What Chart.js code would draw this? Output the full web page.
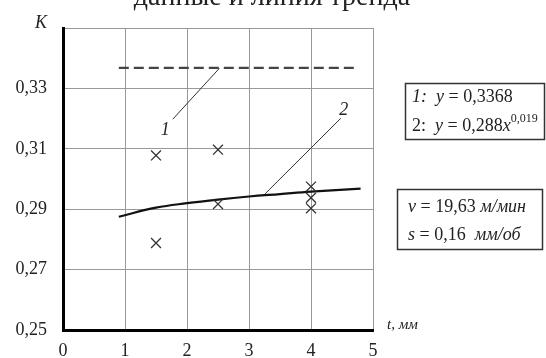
<!DOCTYPE html>
<html>
<head>
<meta charset="UTF-8">
<title>trend.html</title>
<style>
	body {margin:0; background:#fff;}
	#wrap {width:546px; height:358px;}
</style>
</head>
<body>
<div id="wrap"><canvas id="myChart" width="546" height="358"></canvas></div>
<script src="https://cdn.jsdelivr.net/npm/chart.js@4"></script>
<script>
	// data
	const pointT = [1.5, 1.5, 2.5, 2.5, 4, 4, 4];
	const pointK = [0.3078, 0.2788, 0.3097, 0.2917, 0.2975, 0.2938, 0.2903];
	const trendT = [0.9, 1.5, 2, 2.5, 3, 3.5, 4, 4.8];
	const trendK = [0.2875, 0.2905, 0.2920, 0.2932, 0.2942, 0.2950, 0.2958, 0.2968];
	const lineT = [0.9, 4.7];
	const lineK = [0.3368, 0.3368];
	const xTicks = [0, 1, 2, 3, 4, 5];
	const yTicks = [0.25, 0.27, 0.29, 0.31, 0.33];

	// leader lines to the labels 1 and 2
	const leader1 = [{x:2.52, y:0.3366}, {x:1.77, y:0.3198}];
	const leader2 = [{x:3.26, y:0.2951}, {x:4.48, y:0.3201}];

	const serif = '"Liberation Serif", "Times New Roman", serif';
	const toXY = (xs, ys) => xs.map((v, i) => ({x:v, y:ys[i]}));

	// texts drawn around the plot
	const textPlugin = {
		id:'texts',
		beforeDraw(chart) {
			const c = chart.ctx;
			c.save();
			c.fillStyle = '#fff';
			c.fillRect(0, 0, chart.width, chart.height);
			c.restore();
		},
		afterDraw(chart) {
			const c = chart.ctx;
			const xs = chart.scales.x, ys = chart.scales.y;
			c.save();
			c.fillStyle = '#222';
			c.textBaseline = 'alphabetic';

			// title (cut off at the top)
			c.font = '28px ' + serif;
			c.textAlign = 'center';
			c.fillText('данные и линия тренда', 272, 5);

			c.textAlign = 'left';
			c.font = 'italic 18px ' + serif;
			c.fillText('K', 35, 28);

			c.font = 'italic 15px ' + serif;
			c.fillText('t, мм', 387, 329);

			// labels of the curves
			c.font = 'italic 18px ' + serif;
			c.textAlign = 'center';
			c.fillText('1', xs.getPixelForValue(1.65), ys.getPixelForValue(0.3165) + 6);
			c.fillText('2', xs.getPixelForValue(4.53), ys.getPixelForValue(0.3231) + 6);
			c.textAlign = 'left';

			// boxes
			c.strokeStyle = '#333';
			c.lineWidth = 1.5;
			c.strokeRect(405.5, 83.5, 139, 56);
			c.strokeRect(397.5, 189.5, 145, 60);

			function run(parts, x, y) {
				parts.forEach(p => {
					c.font = p[1];
					c.fillText(p[0], x, y + (p[2] || 0));
					x += c.measureText(p[0]).width;
				});
			}
			const reg = '18px ' + serif, ita = 'italic 18px ' + serif, sup = '12px ' + serif;
			run([['1:', ita], ['  y', ita], [' = 0,3368', reg]], 412, 102);
			run([['2:', reg], ['  y', ita], [' = 0,288', reg], ['x', ita], ['0,019', sup, -9]], 412, 131);
			run([['v', ita], [' = 19,63 ', reg], ['м/мин', ita]], 408, 212);
			run([['s', ita], [' = 0,16  ', reg], ['мм/об', ita]], 408, 240);
			c.restore();
		}
	};

	const ctx = document.getElementById('myChart');
	const chart = new Chart(ctx, {
		type:'scatter',
		data:{
			datasets:[{
				// measured points
				data:toXY(pointT, pointK),
				pointStyle:'crossRot',
				pointRadius:7,
				borderColor:'#333',
				borderWidth:1.3
			},{
				// 1: y = 0,3368
				data:toXY(lineT, lineK),
				showLine:true,
				borderColor:'#444',
				borderWidth:2.2,
				borderDash:[10, 5],
				pointRadius:0
			},{
				// 2: y = 0,288x^0,019
				data:toXY(trendT, trendK),
				showLine:true,
				borderColor:'#111',
				borderWidth:2.2,
				tension:0.4,
				pointRadius:0
			},{
				data:leader1,
				showLine:true,
				borderColor:'#333',
				borderWidth:1,
				pointRadius:0
			},{
				data:leader2,
				showLine:true,
				borderColor:'#333',
				borderWidth:1,
				pointRadius:0
			}]
		},
		options:{
			responsive:false,
			animation:false,
			events:[],
			layout:{padding:{left:0, top:28, right:173, bottom:0}},
			plugins:{legend:{display:false}, tooltip:{enabled:false}},
			scales:{
				x:{
					type:'linear', min:0, max:5,
					afterBuildTicks(s) { s.ticks = xTicks.map(v => ({value:v})); },
					afterFit(s) { s.height = 28; },
					grid:{color:'#999', lineWidth:1, drawTicks:false},
					border:{color:'#000', width:3},
					ticks:{color:'#222', padding:10, font:{family:serif, size:18}}
				},
				y:{
					type:'linear', min:0.25, max:0.35,
					afterBuildTicks(s) { s.ticks = yTicks.concat([0.35]).map(v => ({value:v})); },
					afterFit(s) { s.width = 63; },
					grid:{color:'#999', lineWidth:1, drawTicks:false},
					border:{color:'#000', width:3},
					ticks:{
						color:'#222', padding:16, font:{family:serif, size:18},
						callback:function(v) { return v > 0.34 ? '' : v.toFixed(2).replace('.', ','); }
					}
				}
			}
		},
		plugins:[textPlugin]
	});
</script>
</body>
</html>
